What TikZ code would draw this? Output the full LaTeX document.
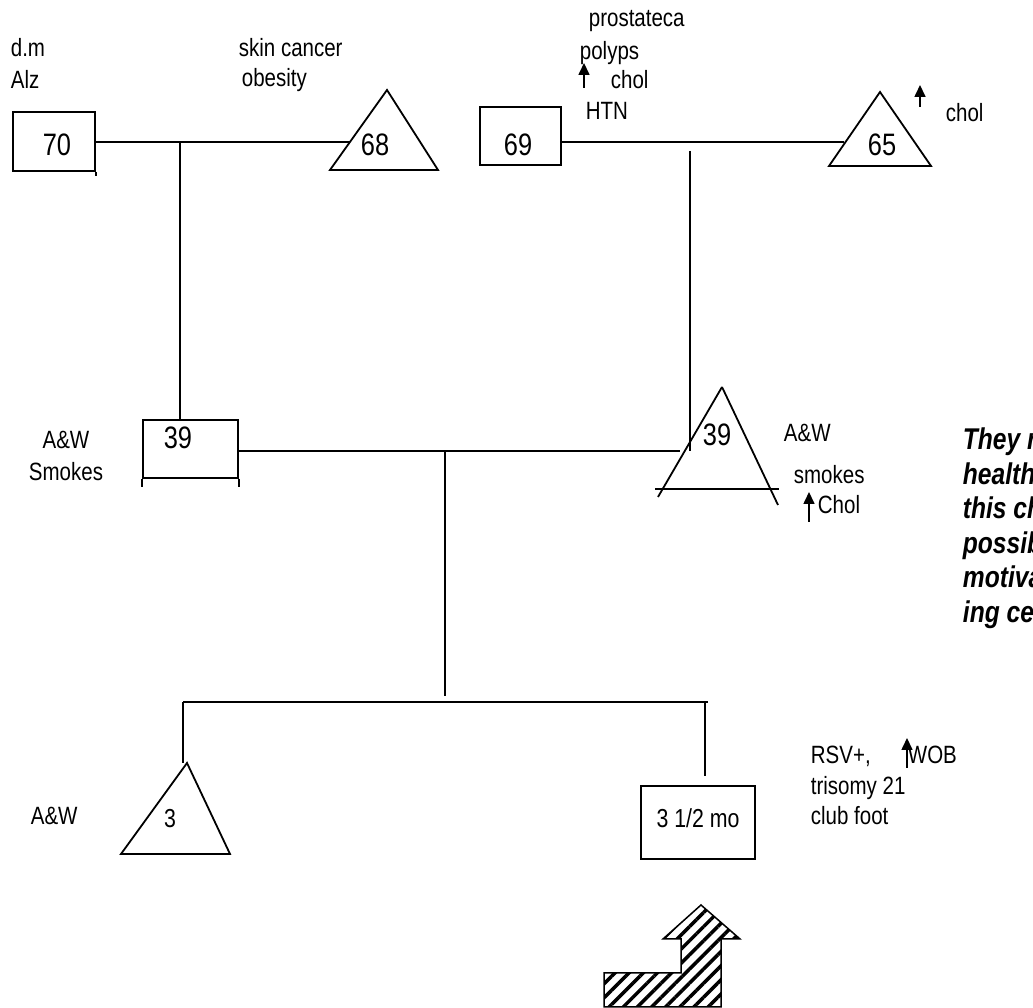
\documentclass[tikz,border=0pt]{standalone}
\usepackage{fontspec}
\setmainfont{Liberation Sans}[FakeStretch=0.82]
\usetikzlibrary{positioning,arrows.meta,patterns.meta}

\begin{document}
\begin{tikzpicture}[
    x=1pt, y=1pt,
    line width=1.8pt,
    node distance=7pt,
    lbl/.style={font=\fontsize{25}{30}\selectfont, inner sep=0pt,
                text height=18pt, text depth=5pt},
    num/.style={font=\fontsize{31}{36}\selectfont, inner sep=0pt,
                text height=22pt, text depth=0pt},
    numsm/.style={font=\fontsize{26}{30}\selectfont, inner sep=0pt,
                text height=19pt, text depth=0pt},
    male/.style={draw, inner sep=0pt},
    uparr/.style={-{Triangle[length=12pt,width=11pt]}, line width=1.6pt},
    note/.style={font=\fontsize{30}{34.5}\selectfont\bfseries\itshape,
                 align=left, inner sep=0pt}
  ]
    \useasboundingbox (0,0) rectangle (1033,1008);
    \clip (0,0) rectangle (1033,1008);

    % grandparents, father's side
    \node[male, minimum width=82pt, minimum height=59pt] (f70) at (54,866.5) {};
    \draw (f70.south east) -- ++(0,-4);
    \node[num] (a70) at (57,863) {70};
    \coordinate (k68top) at (387,918);
    \draw (k68top) -- (330,838) -- (438,838) -- cycle;
    \node[num] (a68) at (375,863) {68};
    \coordinate (k68l) at (350,866);
    \node[lbl, anchor=west] (dm) at (10,958) {d.m};
    \node[lbl, below=of dm.south west, anchor=north west] (alz) {Alz};
    \node[lbl, anchor=west] (skin) at (238,958) {skin cancer};
    \node[lbl, anchor=west] (obes) at (241,928) {obesity};

    % grandparents, mother's side
    \node[male, minimum width=81pt, minimum height=58pt] (f69) at (520.5,872) {};
    \node[num] (a69) at (518,863) {69};
    \coordinate (k65top) at (880,916);
    \draw (k65top) -- (829,842) -- (931,842) -- cycle;
    \node[num] (a65) at (882,863) {65};
    \coordinate (k65l) at (844,866);
    \node[lbl, anchor=west] (pros) at (588,988) {prostateca};
    \node[lbl, anchor=west] (poly) at (579,955) {polyps};
    \node[lbl, anchor=west] (chol1) at (610,926) {chol};
    \draw[uparr] (584,920) -- (584,945);
    \node[lbl, anchor=west] (htn) at (585,895) {HTN};
    \node[lbl, anchor=west] (chol2) at (945,893) {chol};
    \draw[uparr] (920,901) -- (920,923);

    % parents
    \node[male, minimum width=95pt, minimum height=58pt] (m39) at (190.5,559) {};
    \draw (m39.south west) -- ++(0,-8);
    \draw (m39.south east) -- ++(0,-8);
    \node[num] (a39m) at (178,570) {39};
    \node[lbl] (aw1) at (66,566) {A\&W};
    \node[lbl, below=of aw1] (smk1) {Smokes};
    \coordinate (k39top) at (722,621);
    \draw (k39top) -- (658,511);
    \draw (k39top) -- (778,503);
    \draw (655,519) -- (779,519);
    \node[num] (a39f) at (717,573) {39};
    \coordinate (k39l) at (680,557);
    \node[lbl, anchor=west] (aw2) at (783,573) {A\&W};
    \node[lbl, anchor=west] (smk2) at (793,531) {smokes};
    \node[lbl, anchor=west] (chol3) at (817,501) {Chol};
    \draw[uparr] (809,486) -- (809,516);

    \node[note, anchor=north west] (note) at (962,581)
      {They r\\health\\this ch\\possib\\motiva\\ing ce};

    % children
    \coordinate (k3top) at (187,245);
    \draw (k3top) -- (121,154) -- (230,154) -- cycle;
    \node[numsm] (a3) at (170,190) {3};
    \node[lbl, anchor=west] (aw3) at (30,190) {A\&W};
    \node[male, minimum width=114pt, minimum height=73pt] (s3) at (698,185.5) {};
    \node[numsm] (a3m) at (698,190) {3 1/2 mo};
    \node[lbl, anchor=west] (rsv) at (810,251) {RSV+,};
    \node[lbl, anchor=west] (wob) at (907,251) {WOB};
    \draw[uparr] (907,240) -- (907,270);
    \node[lbl, anchor=west] (tri) at (810,220) {trisomy 21};
    \node[lbl, anchor=west] (club) at (810,190) {club foot};

    % lines of the family
    \coordinate (c1) at (180,866);
    \coordinate (c2) at (690,866);
    \coordinate (c3) at (445,557);
    \coordinate (sibL) at (183,306);
    \coordinate (sibR) at (708,306);
    \coordinate (d3) at (705,306);
    \draw (f70.east |- k68l) -- (k68l);
    \draw (c1) -- (c1 |- m39.north);
    \draw (f69.east |- k65l) -- (k65l);
    \draw[shorten <=9pt] (c2) -- (c2 |- k39l);
    \draw (m39.east |- k39l) -- (k39l);
    \draw[shorten >=6pt] (c3) -- (c3 |- sibL);
    \draw (sibL) -- (sibR);
    \draw (sibL) -- (sibL |- k3top);
    \draw[shorten >=9pt] (d3) -- (d3 |- s3.north);

    % hatched arrow
    \draw[line width=1.5pt, pattern={Lines[angle=45,distance=10pt,line width=3.5pt]}]
      (604,1) -- (604,35) -- (681,35) -- (681,69) -- (663,69) -- (701,103)
      -- (740,69) -- (721,69) -- (721,1) -- cycle;
  \end{tikzpicture}
\end{document}
